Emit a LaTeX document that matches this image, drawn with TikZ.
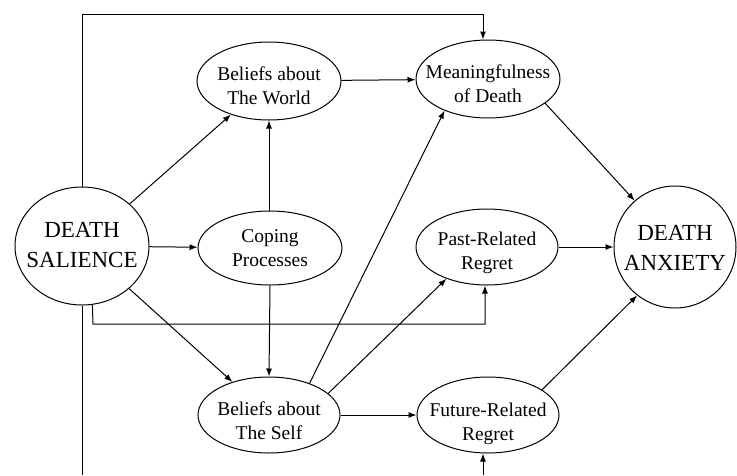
\documentclass[tikz,border=0pt]{standalone}
\usepackage{fontspec}
\setmainfont{Liberation Serif}
\usetikzlibrary{shapes.geometric,arrows.meta}
\newcommand{\nodetxt}[2][0pt]{\raisebox{-#1}[\height][\depth]{\makebox[0pt]{\begin{tabular}{@{}c@{}}#2\end{tabular}}}}
\begin{document}
\begin{tikzpicture}[x=1pt,y=-1pt,
  every path/.style={line width=1pt},
  ell/.style={draw, ellipse, inner sep=0pt, font=\fontsize{19.5}{24}\selectfont},
  big/.style={draw, ellipse, inner sep=0pt, font=\fontsize{23}{30}\selectfont},
  arr/.style={-{Latex[length=8pt,width=6pt]}}]
\useasboundingbox (0,0) rectangle (737,475);
\node[big, minimum width=134pt, minimum height=118pt] (DS) at (82,246) {\nodetxt{DEATH\\SALIENCE}};
\node[big, minimum width=122pt, minimum height=122pt] (DA) at (675,247) {\nodetxt[2pt]{DEATH\\ANXIETY}};
\node[ell, minimum width=144pt, minimum height=78pt] (BW) at (269,81) {\nodetxt[6.5pt]{Beliefs about\\The World}};
\node[ell, minimum width=144pt, minimum height=78pt] (MD) at (488,79) {\nodetxt[7pt]{Meaningfulness\\of Death}};
\node[ell, minimum width=144pt, minimum height=74pt] (CP) at (270,248) {\nodetxt[2pt]{Coping\\Processes}};
\node[ell, minimum width=142pt, minimum height=76pt] (PR) at (487,247) {\nodetxt[6pt]{Past-Related\\Regret}};
\node[ell, minimum width=142pt, minimum height=76pt] (BS) at (269,415) {\nodetxt[8pt]{Beliefs about\\The Self}};
\node[ell, minimum width=142pt, minimum height=76pt] (FR) at (488,415) {\nodetxt[9pt]{Future-Related\\Regret}};
\coordinate (Bl) at (82,475);
\coordinate (Br) at (483,475);
% connectors
\draw[arr] (DS) -- (BW);
\draw[arr] (DS) -- (CP);
\draw[arr] (DS) -- (BS);
\draw[arr] (CP.north -| BW.south) -- (BW.south);
\draw[arr] (CP.south) -- (BS.north);
\draw[arr] (BW) -- (MD);
\draw[arr] (BS.38) -- (MD.216);
\draw[arr] (BS.20) -- (PR.218);
\draw[arr] (BS) -- (FR);
\draw[arr] (MD.-23) -- (DA.131);
\draw[arr] (PR) -- (DA);
\draw[arr] (FR.25) -- (DA.232);
\draw[arr] (DS.north) -- (82,14) -- (483,14) -- (483,0 |- MD.north);
\draw[arr] (DS.-80) -- (93,324) -- (485,324) -- (485,0 |- PR.south);
\draw (DS.south) -- (Bl);
\draw[arr] (Br) -- (Br |- FR.south);
\end{tikzpicture}
\end{document}
